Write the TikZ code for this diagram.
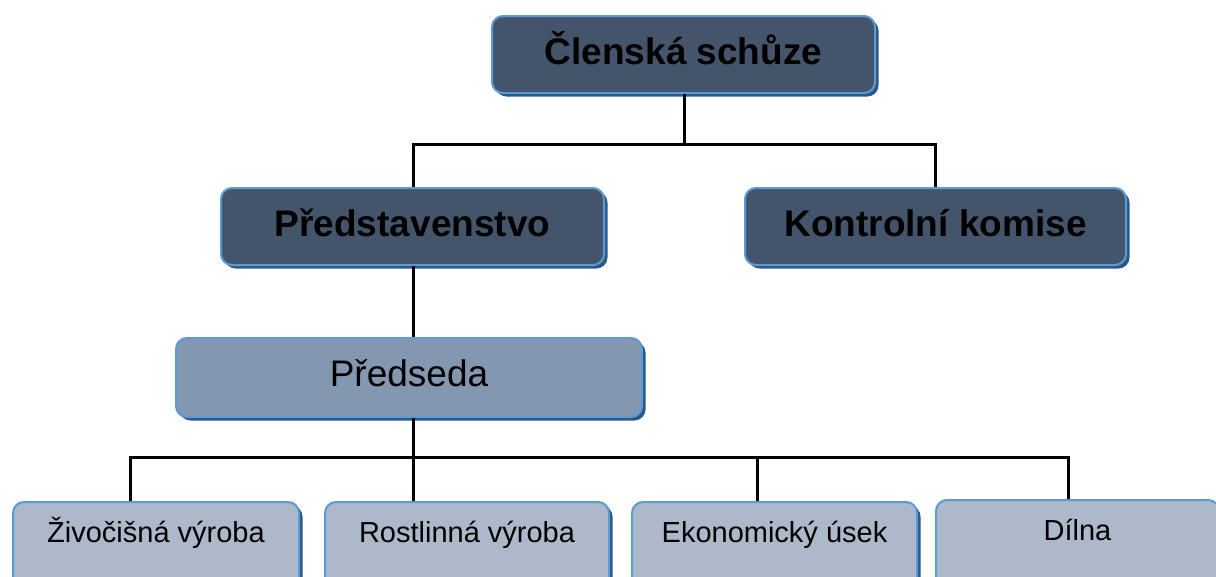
\documentclass[tikz,border=0pt]{standalone}
\usepackage{fontspec}
\setmainfont{Liberation Sans}
\usetikzlibrary{shadows}
\definecolor{darkfill}{RGB}{68,84,106}
\definecolor{midfill}{RGB}{132,151,176}
\definecolor{lightfill}{RGB}{173,185,202}
\definecolor{edgeblue}{RGB}{91,155,213}
\definecolor{shadowblue}{RGB}{44,88,135}
\tikzset{
  orgbox/.style={draw=edgeblue, line width=2pt, rounded corners=11pt, anchor=north west,
    inner sep=0pt, text=black,
    general shadow={fill=shadowblue, shadow xshift=3.5pt, shadow yshift=-3.5pt}},
  topbox/.style={orgbox, fill=darkfill, font=\fontsize{37}{44}\selectfont\bfseries,
    minimum height=77pt, text height=28pt, text depth=8pt},
  chairbox/.style={orgbox, fill=midfill, font=\fontsize{37}{44}\selectfont,
    minimum height=79pt, text height=27pt, text depth=9pt},
  unitbox/.style={orgbox, fill=lightfill, font=\fontsize{29}{35}\selectfont,
    minimum height=110pt, text height=22pt, text depth=51pt},
  link/.style={draw=black, line width=3pt}
}
\begin{document}
\begin{tikzpicture}[x=1pt,y=-1pt]
\useasboundingbox (0,0) rectangle (1216,576);
\begin{scope}
\clip (0,0) rectangle (1216,576);
\fill[white] (0,0) rectangle (1216,576);
% connector junctions
\coordinate (j1) at (684,144);
\coordinate (j2) at (413,457);
\coordinate (b1) at (130,457);
\coordinate (b3) at (757,457);
\coordinate (b4) at (1068,457);
% nodes
\node[topbox, minimum width=383pt] (cs) at (491,15) {Členská schůze};
\node[topbox, minimum width=383pt] (pr) at (220,187) {Představenstvo};
\node[topbox, minimum width=381pt] (kk) at (744,187) {Kontrolní komise};
\node[chairbox, minimum width=466pt] (ps) at (175,337) {Předseda};
\node[unitbox, minimum width=286pt] (zv) at (12,501) {Živočišná výroba};
\node[unitbox, minimum width=284pt] (rv) at (324,501) {Rostlinná výroba};
\node[unitbox, minimum width=285pt] (ek) at (631,501) {Ekonomický úsek};
\node[unitbox, minimum width=283pt] (dl) at (935,499) {Dílna};
% connectors
\draw[link] (cs.south -| j1) -- (j1);
\draw[link] (pr.north -| j2) |- (j1) -| (kk.north);
\draw[link] (pr.south -| j2) -- (ps.north -| j2);
\draw[link] (ps.south -| j2) -- (rv.north -| j2);
\draw[link] (zv.north -| b1) |- (b4) -- (dl.north -| b4);
\draw[link] (b3) -- (ek.north -| b3);
\end{scope}
\end{tikzpicture}
\end{document}
